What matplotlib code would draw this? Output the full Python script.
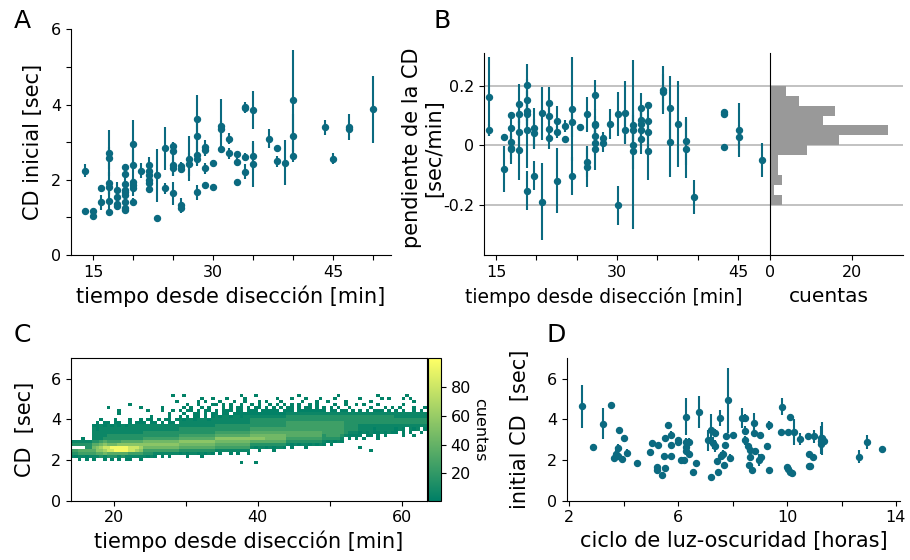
#!/usr/bin/env python3
"""Four-panel CD figure: initial CD and CD slope vs time since dissection,
2D histogram of CD over time, and initial CD vs light-dark cycle."""
import matplotlib
matplotlib.use("Agg")
import matplotlib.pyplot as plt
import numpy as np
from matplotlib.colors import Normalize

# ---- panel A: initial CD [sec] vs time since dissection [min] ----
A_T = [14, 14, 15, 15, 16, 16,
       17, 17, 17, 17, 17, 17, 18, 18, 18, 18,
       19, 19, 19, 19, 19, 19, 19, 19, 19,
       20, 20, 20, 20, 20, 20, 21, 22, 22, 22, 22, 22, 22,
       23, 23, 24, 24, 25, 25, 25, 25, 25, 26, 26, 26, 26, 27, 27,
       28, 28, 28, 28, 28, 29, 29, 29, 29, 30, 30, 31, 31, 31, 32, 32,
       33, 33, 33, 34, 34, 34, 34, 35, 35, 35, 37, 38, 38, 39, 40, 40, 40,
       44, 45, 47, 47, 50]
A_CD = [2.24, 1.17, 1.17, 1.05, 1.79, 1.40,
        2.71, 2.58, 1.91, 1.80, 1.44, 1.14, 1.73, 1.54, 1.36, 1.29,
        2.33, 2.15, 1.90, 1.74, 1.67, 1.60, 1.40, 1.24, 1.20,
        2.94, 2.38, 1.94, 1.87, 1.78, 1.42, 2.24, 2.40, 2.22, 2.13, 2.00, 1.91, 1.76,
        2.12, 0.98, 2.84, 1.77, 2.90, 2.76, 2.39, 2.31, 1.64, 2.36, 2.29, 1.32, 1.26, 2.56, 2.41,
        3.61, 3.16, 2.66, 2.55, 1.67, 2.87, 2.78, 2.30, 1.85, 2.44, 1.80, 3.44, 3.35, 2.81, 3.09, 2.70,
        2.68, 2.47, 1.93, 3.93, 3.90, 2.60, 2.21, 3.86, 2.62, 2.42, 3.09, 2.84, 2.49, 2.45, 4.11, 3.16, 2.63,
        3.40, 2.56, 3.40, 3.34, 3.87]
A_ERR = [0.17, 0.07, 0.06, 0.06, 0.07, 0.20,
         0.60, 0.30, 0.30, 0.20, 0.25, 0.08, 0.20, 0.15, 0.10, 0.10,
         0.10, 0.12, 0.12, 0.10, 0.10, 0.10, 0.10, 0.08, 0.08,
         0.65, 0.40, 0.10, 0.15, 0.20, 0.10, 0.20, 0.20, 0.12, 0.12, 0.12, 0.10, 0.10,
         0.70, 0.05, 0.57, 0.15, 0.10, 0.25, 0.30, 0.20, 0.30, 0.10, 0.10, 0.20, 0.10, 0.60, 0.30,
         0.65, 0.50, 0.30, 0.15, 0.20, 0.20, 0.15, 0.15, 0.10, 0.08, 0.05, 0.70, 0.20, 0.10, 0.15, 0.15,
         0.07, 0.10, 0.10, 0.15, 0.10, 0.10, 0.20, 0.50, 0.35, 0.60, 0.25, 0.05, 0.15, 0.60, 1.35, 0.60, 0.15,
         0.20, 0.15, 0.35, 0.10, 0.90]

# ---- panel B: CD slope [sec/min] vs time since dissection [min] ----
B_T = [14.1, 14.1, 16.0, 16.0, 16.9, 16.9, 16.9, 16.9, 16.9,
       17.8, 17.8, 17.8, 17.8, 18.8, 18.8, 18.8, 18.8, 18.8, 18.8,
       19.75, 19.75, 19.75, 20.7, 20.7, 21.6, 21.6, 21.6, 21.6,
       22.55, 22.55, 22.55, 23.5, 23.5, 24.4, 24.4, 24.4, 25.4,
       26.3, 26.3, 26.3, 27.25, 27.25, 27.25, 27.25, 27.25, 27.25,
       28.2, 28.2, 29.1, 30.05, 30.05, 31.0, 31.0, 32.0, 32.0, 32.0, 32.0,
       32.9, 32.9, 32.9, 32.9, 32.9, 33.8, 33.8, 33.8, 33.8,
       35.7, 35.7, 36.6, 36.6, 37.6, 38.5, 38.5, 39.5,
       43.2, 43.2, 43.2, 45.1, 45.1, 47.9]
B_SLOPE = [0.164, 0.052, 0.029, -0.081, 0.102, 0.057, 0.010, -0.008, -0.012,
           0.138, 0.106, 0.043, -0.017, 0.203, 0.153, 0.117, 0.104, 0.052, -0.153,
           0.057, 0.040, -0.102, 0.108, -0.191, 0.143, 0.100, 0.054, 0.026,
           0.082, 0.046, -0.120, 0.066, 0.021, 0.122, 0.078, -0.103, 0.063,
           0.104, -0.058, -0.072, 0.169, 0.072, 0.069, 0.031, 0.007, -0.012,
           0.024, 0.006, 0.072, 0.106, -0.203, 0.110, 0.052, 0.069, 0.052, 0.001, -0.019,
           0.125, 0.085, 0.071, 0.052, 0.021, 0.135, 0.082, 0.044, -0.018,
           0.187, 0.179, 0.125, 0.010, 0.071, 0.015, -0.012, -0.175,
           0.113, 0.104, -0.007, 0.052, 0.028, -0.049]
B_ERR = [0.133, 0.020, 0.010, 0.078, 0.010, 0.030, 0.020, 0.040, 0.050,
         0.070, 0.030, 0.050, 0.100, 0.070, 0.070, 0.050, 0.050, 0.130, 0.065,
         0.070, 0.050, 0.050, 0.090, 0.130, 0.055, 0.030, 0.030, 0.040,
         0.050, 0.020, 0.110, 0.020, 0.010, 0.175, 0.050, 0.065, 0.010,
         0.060, 0.050, 0.070, 0.050, 0.050, 0.030, 0.040, 0.040, 0.070,
         0.020, 0.030, 0.050, 0.075, 0.065, 0.105, 0.045, 0.050, 0.050, 0.285, 0.060,
         0.050, 0.040, 0.040, 0.060, 0.050, 0.010, 0.040, 0.050, 0.100,
         0.080, 0.060, 0.110, 0.116, 0.146, 0.080, 0.100, 0.058,
         0.010, 0.010, 0.010, 0.090, 0.040, 0.058]

# histogram of slopes (12 bins between -0.2 and 0.2, bottom to top)
HIST_EDGES = [-0.2, -0.1667, -0.1333, -0.1, -0.0667, -0.0333, 0.0,
              0.0333, 0.0667, 0.1, 0.1333, 0.1667, 0.2]
HIST_COUNTS = [3, 1, 3, 2, 2, 9, 17, 29, 13, 16, 7, 4]

# ---- panel C: 2D histogram of CD over time (counts) ----
# columns: 0.5 min bins from 14 min; rows: 0.15 sec bins from 1.8 sec (listed top row first)
HEAT_X_EDGES = np.arange(14.0, 64.01, 0.5)
HEAT_Y_EDGES = np.arange(1.8, 5.2501, 0.15)
LEVEL = {" ": 0, ".": 2, "1": 6, "2": 15, "3": 25, "4": 35, "5": 45,
         "6": 55, "7": 65, "8": 80, "9": 95}
HEAT_ROWS = [
    "|          |        . | .        |       .  | .        |   .      |    .     |     .    |   .      ",
    "|          |          |      .  .|   .    . |       .  | .   .   .|   .      |.     . . |  . .     ",
    "|          |         .|     . .  | .   .  . |  . .   . |    .   . | .    .   |   .      |     .    ",
    "|      .   |          |  .  .   .|. . .  .  |. .  . . .| . .  . . |   .  .  .| .   .    |  .       ",
    "|.        .|     .    | . .  . . |  . . .. .| .. . . . |.. . .. . |. . .  .  |   .   . .| .   .  . ",
    "|   .      | .   .  . |. .. . .. |. ... .. .|.. ..... .|.. .......|. .. .. . |. . ... . |. .  . . .",
    "|   .      |       .  | .  .. . .|. .. .....|..........|1111111111|1111111111|1111111111|1111111111",
    "|          |  .    .  |. . .. . .|1.11.11.11|1111111111|2222222222|2222222222|2222222222|1111111111",
    "        . |  .   .  .| .. . .. .|1.11.111.1|1111111111|2222222222|2222222222|2222222222|2222222222|2222222222",
    "       . .|. ..  . ..|. .. . .. |1111111111|1111111111|2222222222|3333333333|3333332222|2222222222|2222222222",
    "      ..1.|1.1.1.1111|1111111111|1111111111|2222222222|2222222222|3333333333|3333332222|1111111111|1111111111",
    "      1.11|1111111111|1111111111|2222222222|2222222222|3333333333|3333333333|3333332222|1111.11111|.1. 1.1 . ",
    "      1111|1111111111|2222222222|2222222222|3333333333|4444444444|4444444444|3333332111|.1.1..1.1.|. . .  .  ",
    "      1111|2222222222|2222222222|3333333333|4444444444|5555555555|4444444444|2333321...|. .. . .  |  .  .    ",
    "   .  1112|2222222222|3333333333|4444444444|6666666666|6666555555|3333333333|222221 . .| .   .    |          ",
    "1111112234|3333444444|5555555555|6666666666|5555555555|4444444444|2222222222|1.1.1.    |          |          ",
    "2222224456|5556666666|6666666666|5555555555|4444444444|2222222222|1.1.11.1.1|. .       |          |          ",
    "    225678|8999998887|5555555555|4444444444|3333333333|1.11.1.11.| .   .    |          |.         |          ",
    "3344444667|8899998876|3333333333|2222222222|1111111111|  .   .   |          |          |   .      |          ",
    "2233333445|4444443333|2221111111|.1.11.1.1.| .  . .  .|          |          |          |          |          ",
    "1.11.11121|2221211111|1.1. . .  |  .   .   |          |          |          |          |          |          ",
    "  . . .  .| . . ..  .|          |          |          |          |          |          |          |          ",
    "          |          |          |          |       .  | .        |          |          |          |          ",
]

# ---- panel D: initial CD [sec] vs light-dark cycle [hours] ----
D_H = [2.45, 2.87, 3.25, 3.53, 3.63, 3.71, 3.80, 3.80, 3.84, 3.92, 4.00, 4.13, 4.50,
       4.97, 5.04, 5.23, 5.23, 5.27, 5.40, 5.48, 5.51, 5.53, 5.64, 5.73, 5.73, 5.73,
       6.00, 6.00, 6.09, 6.21, 6.27, 6.27, 6.27, 6.27, 6.38, 6.38, 6.54, 6.65, 6.76,
       7.08, 7.19, 7.19, 7.29, 7.35, 7.35, 7.41, 7.45, 7.55, 7.58, 7.65, 7.69, 7.73,
       7.76, 7.84, 7.90, 8.02, 8.36, 8.46, 8.46, 8.46, 8.55, 8.61, 8.65, 8.65, 8.70,
       8.79, 8.79, 8.83, 8.95, 8.99, 9.04, 9.25, 9.34, 9.34, 9.77, 9.80, 9.98, 10.02,
       10.02, 10.09, 10.09, 10.18, 10.24, 10.47, 10.76, 10.79, 10.79, 10.85, 10.94,
       11.00, 11.23, 11.23, 11.23, 11.28, 11.36, 12.65, 12.92, 13.48]
D_CD = [4.64, 2.66, 3.79, 4.71, 2.10, 2.31, 2.58, 2.18, 3.47, 2.07, 3.07, 2.33, 1.83,
        2.41, 2.83, 1.67, 1.52, 2.74, 1.24, 2.18, 1.62, 3.09, 3.70, 3.24, 2.74, 2.21,
        2.89, 2.99, 2.00, 2.00, 4.13, 2.88, 2.64, 2.45, 2.31, 2.88, 1.40, 1.85, 4.35,
        2.96, 3.50, 1.17, 2.84, 3.31, 2.68, 1.93, 1.39, 4.05, 2.21, 2.31, 1.74, 2.76,
        3.17, 4.93, 2.08, 3.22, 4.05, 4.08, 3.45, 2.96, 2.71, 1.75, 2.48, 2.15, 1.50,
        3.80, 3.31, 2.45, 2.00, 3.21, 2.13, 2.71, 3.70, 1.50, 3.36, 4.63, 1.64, 3.39,
        1.55, 4.12, 1.40, 1.36, 3.39, 3.04, 3.16, 2.31, 1.69, 1.70, 2.17,
        3.16, 3.09, 2.93, 2.81, 3.06, 2.93, 2.17, 2.89, 2.56]
D_ERR = [1.07, 0.15, 0.75, 0.10, 0.15, 0.35, 0.20, 0.10, 0.10, 0.10, 0.15, 0.20, 0.05,
         0.10, 0.10, 0.10, 0.10, 0.10, 0.05, 0.10, 0.10, 0.10, 0.15, 0.20, 0.15, 0.15,
         0.15, 0.10, 0.10, 0.15, 0.90, 0.20, 0.15, 0.20, 0.15, 0.20, 0.10, 0.10, 0.80,
         0.50, 0.75, 0.10, 0.30, 0.20, 0.30, 0.10, 0.10, 0.40, 0.20, 0.20, 0.10, 0.15,
         0.15, 1.60, 0.20, 0.10, 0.50, 0.20, 0.20, 0.20, 0.15, 0.15, 0.30, 0.20, 0.10,
         0.50, 0.20, 0.10, 0.30, 0.10, 0.10, 0.15, 0.20, 0.10, 0.10, 0.40, 0.10, 0.10,
         0.10, 0.10, 0.10, 0.05, 0.65, 0.30, 0.10, 0.10, 0.10, 0.10, 0.10,
         0.30, 0.60, 0.10, 0.50, 0.80, 0.10, 0.30, 0.35, 0.10]

TEAL = "#0b6a80"
TICK_FS = 11.5
LABEL_FS = 15
EB = dict(fmt="o", color=TEAL, ms=4.3, elinewidth=1.5, capsize=0, lw=0)


def clean(ax):
    ax.spines["top"].set_visible(False)
    ax.spines["right"].set_visible(False)
    ax.tick_params(labelsize=TICK_FS)


def sparse_labels(ticks, shown):
    return [str(t) if t in shown else "" for t in ticks]


def main():
    fig = plt.figure(figsize=(9.1, 5.6), dpi=100)
    W, H = 910.0, 560.0

    def box(l, t, r, b):
        return [l / W, 1 - b / H, (r - l) / W, (b - t) / H]

    # ---- A ----
    ax = fig.add_axes(box(70.7, 29.3, 391, 255))
    ax.errorbar(A_T, A_CD, yerr=A_ERR, **EB)
    ax.set_xlim(12.2, 52.2); ax.set_ylim(0, 6)
    xt = list(range(15, 51, 5))
    ax.set_xticks(xt); ax.set_xticklabels(sparse_labels(xt, (15, 30, 45)))
    yt = list(range(0, 7))
    ax.set_yticks(yt); ax.set_yticklabels(sparse_labels(yt, (0, 2, 4, 6)))
    ax.set_xlabel("tiempo desde disección [min]", fontsize=LABEL_FS)
    ax.set_ylabel("CD inicial [sec]", fontsize=LABEL_FS)
    ax.yaxis.set_label_coords(-0.087, 0.5)
    clean(ax)

    # ---- B + histogram ----
    axb = fig.add_axes(box(484, 53, 770, 255))
    axh = fig.add_axes(box(770, 53, 903, 255), sharey=axb)
    for a in (axb, axh):
        for yv in (-0.2, 0.0, 0.2):
            a.axhline(yv, color="0.72", lw=1.2, zorder=0)
    axb.errorbar(B_T, B_SLOPE, yerr=B_ERR, **EB)
    axb.set_xlim(13.5, 48.95); axb.set_ylim(-0.37, 0.311)
    xt = list(range(15, 46, 5))
    axb.set_xticks(xt); axb.set_xticklabels(sparse_labels(xt, (15, 30, 45)))
    axb.set_yticks([-0.2, 0, 0.2]); axb.set_yticklabels(["-0.2", "0", "0.2"])
    axb.set_xlabel("tiempo desde disección [min]", fontsize=13.5)
    axb.xaxis.set_label_coords(0.42, -0.16)
    axb.set_ylabel("pendiente de la CD\n[sec/min]", fontsize=LABEL_FS, linespacing=1.1)
    axb.yaxis.set_label_coords(-0.14, 0.53)
    clean(axb)

    edges = np.array(HIST_EDGES)
    axh.barh(edges[:-1], HIST_COUNTS, height=np.diff(edges), align="edge",
             color="0.6", lw=0, zorder=2)
    axh.set_xlim(0, 32.6)
    axh.set_xticks([0, 20])
    axh.tick_params(axis="y", left=False, labelleft=False)
    axh.set_xlabel("cuentas", fontsize=14.5)
    axh.xaxis.set_label_coords(0.44, -0.16)
    clean(axh)

    # ---- C ----
    axc = fig.add_axes(box(70.7, 358.3, 426.7, 500.7))
    grid = [[LEVEL[ch] for ch in "".join(b.ljust(10)[:10] for b in row.split("|"))]
            for row in HEAT_ROWS]
    counts = np.ma.masked_equal(np.array(grid[::-1], dtype=float), 0)
    mesh = axc.pcolormesh(HEAT_X_EDGES, HEAT_Y_EDGES, counts, cmap="summer",
                          norm=Normalize(1, 100))
    axc.set_xlim(14, 63.5); axc.set_ylim(0, 7)
    xt = [20, 30, 40, 50, 60]
    axc.set_xticks(xt); axc.set_xticklabels(sparse_labels(xt, (20, 40, 60)))
    axc.set_yticks([0, 2, 4, 6])
    axc.tick_params(labelsize=TICK_FS)
    axc.set_xlabel("tiempo desde disección [min]", fontsize=LABEL_FS)
    axc.set_ylabel("CD  [sec]", fontsize=LABEL_FS)
    axc.yaxis.set_label_coords(-0.10, 0.5)

    cax = fig.add_axes(box(428.3, 358.3, 440.7, 500.7))
    cb = fig.colorbar(mesh, cax=cax, ticks=[20, 40, 60, 80])
    cb.ax.tick_params(labelsize=TICK_FS)
    cb.set_label("cuentas", rotation=270, fontsize=TICK_FS, labelpad=12)

    # ---- D ----
    axd = fig.add_axes(box(566.7, 358.3, 900, 500.7))
    axd.errorbar(D_H, D_CD, yerr=D_ERR, **EB)
    axd.set_xlim(1.9, 14.15); axd.set_ylim(0, 7)
    xt = list(range(2, 15, 2))
    axd.set_xticks(xt); axd.set_xticklabels(sparse_labels(xt, (2, 6, 10, 14)))
    axd.set_yticks([0, 2, 4, 6])
    axd.set_xlabel("ciclo de luz-oscuridad [horas]", fontsize=LABEL_FS)
    axd.set_ylabel("initial CD  [sec]", fontsize=LABEL_FS)
    axd.yaxis.set_label_coords(-0.11, 0.5)
    clean(axd)

    # panel letters
    for letter, x, y in (("A", 14, 28.3), ("B", 433.5, 28.3),
                         ("C", 14, 341.7), ("D", 546.5, 341.7)):
        fig.text(x / W, 1 - y / H, letter, fontsize=18, va="baseline", ha="left")

    fig.savefig("out.png", dpi=100)
    plt.close(fig)


if __name__ == "__main__":
    main()
